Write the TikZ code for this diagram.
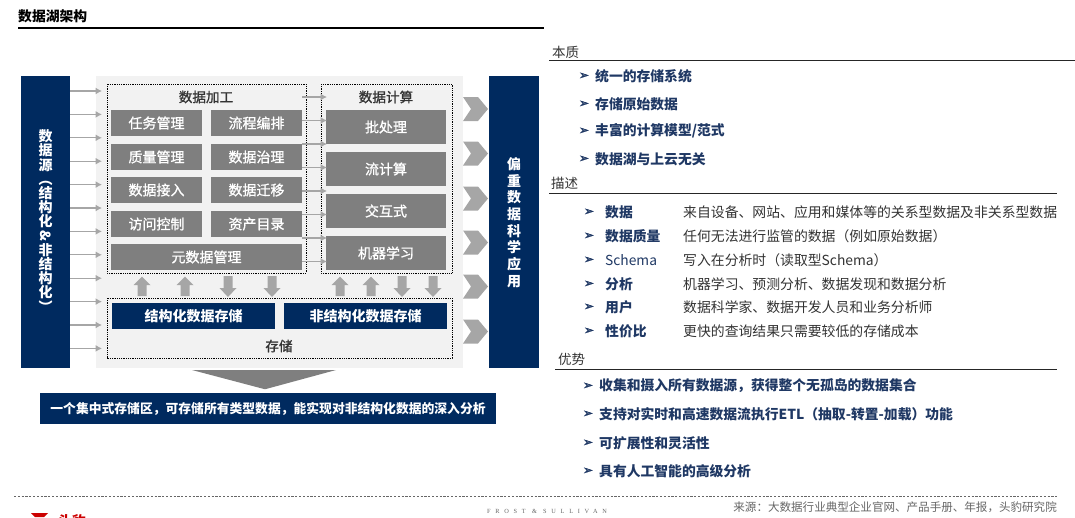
\documentclass[tikz,border=0pt]{standalone}
\usepackage{fontspec}
\setmainfont{Noto Sans CJK SC}
\newfontfamily\medcjk[FakeBold=1]{Noto Sans CJK SC}
\newfontfamily\djsans[FakeBold=1.5]{DejaVu Sans}
\newfontfamily\seriflib[LetterSpace=75]{Liberation Serif}
\usepackage{graphicx}
\usetikzlibrary{arrows.meta}
\definecolor{navy}{HTML}{002A5F}
\definecolor{tile}{HTML}{7F7F7F}
\definecolor{panel}{HTML}{F2F2F2}
\definecolor{arrowgrey}{HTML}{A6A6A6}
\definecolor{itemblue}{HTML}{1F3864}
\definecolor{ink}{HTML}{333333}
\newcommand{\fsl}{/}
\tikzset{
 x=1pt,y=-1pt,
 cjk/.style={font=\medcjk\fontsize{#1}{#1}\selectfont},
 tilebox/.style={fill=tile,text=white,draw=none,inner sep=0pt,font=\medcjk\fontsize{14}{14}\selectfont},
 bluebox/.style={fill=navy,text=white,draw=none,inner sep=0pt,font=\bfseries\fontsize{14}{14}\selectfont},
 dotbox/.style={draw=black,line width=0.8pt,densely dotted,fill=none},
 thinarrow/.style={draw=arrowgrey,line width=1.2pt,-{Latex[length=6.5pt,width=7pt]}},
 heading/.style={anchor=west,inner sep=0pt,text=ink,font=\fontsize{13.5}{14}\selectfont},
 hrule/.style={line width=1pt,draw=black!85},
 itemtext/.style={anchor=west,inner sep=0pt,text=itemblue,font=\bfseries\fontsize{13.8}{14}\selectfont},
 plaintext/.style={anchor=west,inner sep=0pt,text=ink,font=\fontsize{13.85}{14}\selectfont},
 bulletmark/.style={anchor=center,inner sep=0pt,text=itemblue,font=\djsans\fontsize{12.5}{14}\selectfont},
}
\begin{document}
\begin{tikzpicture}
\useasboundingbox (0,0) rectangle (1075,517);
\clip (0,0) rectangle (1075,517);
% title
\node[heading,font=\bfseries\fontsize{13.8}{14}\selectfont,text=black] (title) at (18,16) {数据湖架构};
\draw[line width=1.3pt] (18,28) -- (544,28);
% panel
\fill[panel] (96,76) rectangle (463,368);
% side bars
\path[fill=navy] (21,76) rectangle (70,368);
\path[fill=navy] (489,76) rectangle (539,368);
\node[text=white,align=center,inner sep=0pt,font=\bfseries\fontsize{14}{14.2}\selectfont] (src) at (45.5,221) {数\\据\\源\\︵\\结\\构\\化\\\smash{\rotatebox[origin=c]{-90}{\&}}\\非\\结\\构\\化\\︶};
\node[text=white,align=center,inner sep=0pt,font=\bfseries\fontsize{14}{16.7}\selectfont] (app) at (514,222.5) {偏\\重\\数\\据\\科\\学\\应\\用};
% dotted frames
\draw[dotbox] (107,84) rectangle (306,273);
\draw[dotbox] (321,84) rectangle (452,273);
\draw[dotbox] (107,298) rectangle (452,358);
\node[cjk=13.6,text=ink,inner sep=0pt] (lab1) at (206,97) {数据加工};
\node[cjk=13.6,text=ink,inner sep=0pt] (lab2) at (386,97) {数据计算};
\node[cjk=13.6,text=ink,inner sep=0pt] (lab3) at (279,346) {存储};
% tiles
\foreach \n/\t/\yy in {a/任务管理/123,b/质量管理/157,c/数据接入/190,d/访问控制/224}{
 \node[tilebox,minimum width=91pt,minimum height=26pt] (\n) at (156.5,\yy) {\t};}
\foreach \n/\t/\yy in {e/流程编排/123,f/数据治理/157,g/数据迁移/190,h/资产目录/224}{
 \node[tilebox,minimum width=91pt,minimum height=26pt] (\n) at (256.5,\yy) {\t};}
\node[tilebox,minimum width=191pt,minimum height=26pt] (meta) at (206.5,257) {元数据管理};
\foreach \n/\t/\yy in {p/批处理/127,q/流计算/169,r/交互式/211,s/机器学习/253}{
 \node[tilebox,minimum width=120pt,minimum height=34pt] (\n) at (386,\yy) {\t};}
\node[bluebox,minimum width=163pt,minimum height=26pt] (st1) at (193.5,316) {结构化数据存储};
\node[bluebox,minimum width=163pt,minimum height=26pt] (st2) at (365.5,316) {非结构化数据存储};
% left arrows
\foreach \yy in {91,114.4,137.8,161.2,184.6,208,231.4,254.8,278.2,301.6,325,348.4}{
 \coordinate (la) at (102,\yy);
 \draw[thinarrow] (70,\yy) -- (la);}
% middle arrows
\foreach \yy in {97,120.5,144,167.5,191,214.5,238,261.5}{
 \coordinate (ma) at (327,\yy);
 \draw[thinarrow] (302,\yy) -- (ma);}
% block arrows
\foreach \xx in {142,185,340,371}{
 \fill[arrowgrey] (\xx-4.5,296) -- (\xx-4.5,285) -- (\xx-8.5,285) -- (\xx,276.5) -- (\xx+8.5,285) -- (\xx+4.5,285) -- (\xx+4.5,296) -- cycle;}
\foreach \xx in {228,272,402,433}{
 \fill[arrowgrey] (\xx-4.5,276) -- (\xx-4.5,288) -- (\xx-8.5,288) -- (\xx,297) -- (\xx+8.5,288) -- (\xx+4.5,288) -- (\xx+4.5,276) -- cycle;}
% chevrons
\foreach \yy in {109,153.5,198.5,242.5,286.5,331.5}{
 \fill[arrowgrey] (463,\yy-12) -- (478,\yy-12) -- (488,\yy) -- (478,\yy+12) -- (463,\yy+12) -- (471,\yy) -- cycle;}
% funnel + bar
\fill[tile] (192,370) -- (336,370) -- (266,389) -- (264,389) -- cycle;
\node[bluebox,font=\bfseries\fontsize{12.8}{13}\selectfont,minimum width=456pt,minimum height=31pt] (banner) at (268,408.5) {一个集中式存储区，可存储所有类型数据，能实现对非结构化数据的深入分析};
% right column
\node[heading] (h1) at (552,52) {本质};
\draw[hrule] (549,60) -- (1075,60);
\foreach \n/\t/\yy in {i1/统一的存储系统/76,i2/存储原始数据/104,i3/丰富的计算模型\fsl 范式/131,i4/数据湖与上云无关/159}{
 \node[bulletmark] (b\n) at (584,\yy) {➢};
 \node[itemtext] (\n) at (595,\yy) {\t};}
\node[heading] (h2) at (551,183) {描述};
\draw[hrule] (549,193) -- (1057,193);
\foreach \n/\t/\d/\yy in {j1/数据/来自设备、网站、应用和媒体等的关系型数据及非关系型数据/212,j2/数据质量/任何无法进行监管的数据（例如原始数据）/236,j3/\mdseries Schema/写入在分析时（读取型Schema）/260,j4/分析/机器学习、预测分析、数据发现和数据分析/284,j5/用户/数据科学家、数据开发人员和业务分析师/307,j6/性价比/更快的查询结果只需要较低的存储成本/331}{
 \node[bulletmark] (b\n) at (589,\yy) {➢};
 \node[itemtext] (\n) at (605,\yy) {\t};
 \node[plaintext] (d\n) at (683,\yy) {\d};}
\node[heading] (h3) at (558,359) {优势};
\draw[hrule] (555,369.5) -- (1057,369.5);
\foreach \n/\t/\yy in {k1/收集和摄入所有数据源，获得整个无孤岛的数据集合/386,k2/支持对实时和高速数据流执行ETL（抽取-转置-加载）功能/414,k3/可扩展性和灵活性/443,k4/具有人工智能的高级分析/471}{
 \node[bulletmark] (b\n) at (588,\yy) {➢};
 \node[itemtext] (\n) at (599,\yy) {\t};}
% footer
\draw[line width=0.5pt,dash pattern=on 2.2pt off 1.6pt,draw=black!60] (14,496) -- (1057,496);
\node[anchor=east,inner sep=0pt,text=black!60,font=\fontsize{11.55}{12}\selectfont] (srcnote) at (1057,507) {来源：大数据行业典型企业官网、产品手册、年报，头豹研究院};
\node[anchor=west,inner sep=0pt,text=black!60,font=\seriflib\fontsize{6.3}{7}\selectfont] (frost) at (487,511) {FROST \& SULLIVAN};
\node[anchor=west,inner sep=0pt,text=red!80!black,font=\bfseries\fontsize{14}{14}\selectfont] (logo) at (58,521) {头豹};
\fill[red!80!black] (31,513) -- (48,513) -- (44,517) -- (35,517) -- cycle;
\end{tikzpicture}
\end{document}
